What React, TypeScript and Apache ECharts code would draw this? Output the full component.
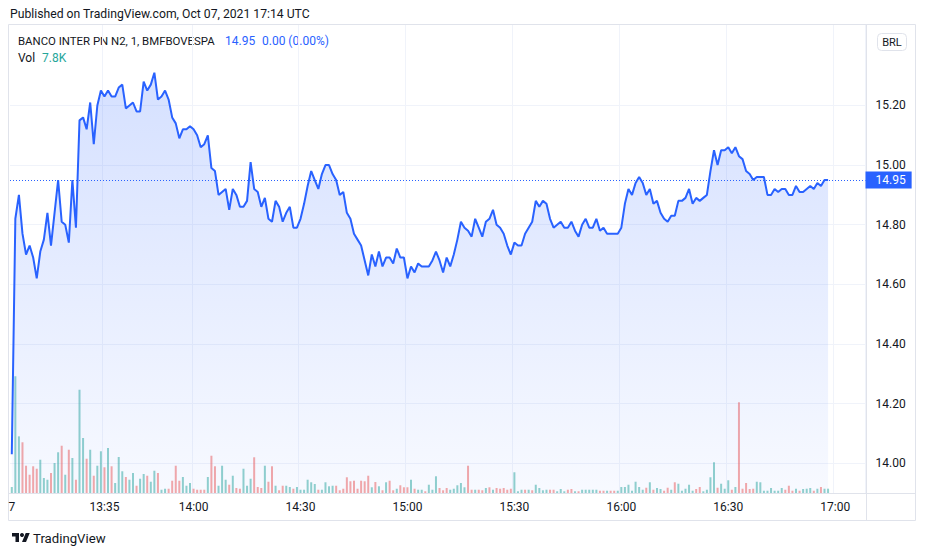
import React, { useEffect, useRef } from "react";
import * as echarts from "echarts";

// ---------- data ----------
const PRICE: number[] = [
  14.03, 14.82, 14.90, 14.77, 14.70, 14.73, 14.69, 14.62, 14.71, 14.75,
  14.84, 14.73, 14.84, 14.95, 14.81, 14.80, 14.74, 14.95, 14.79, 15.15,
  15.16, 15.12, 15.21, 15.07, 15.20, 15.25, 15.23, 15.25, 15.23, 15.23,
  15.26, 15.27, 15.19, 15.20, 15.21, 15.18, 15.18, 15.28, 15.25, 15.27,
  15.31, 15.22, 15.23, 15.25, 15.22, 15.16, 15.14, 15.09, 15.12, 15.12,
  15.13, 15.12, 15.10, 15.06, 15.07, 15.10, 14.99, 14.98, 14.90, 14.91,
  14.92, 14.85, 14.92, 14.90, 14.86, 14.86, 14.88, 15.01, 14.92, 14.91,
  14.86, 14.89, 14.82, 14.81, 14.88, 14.86, 14.81, 14.84, 14.86, 14.79,
  14.79, 14.82, 14.87, 14.93, 14.98, 14.95, 14.92, 14.97, 15.00, 15.00,
  14.97, 14.95, 14.90, 14.91, 14.84, 14.82, 14.77, 14.75, 14.73, 14.68,
  14.63, 14.70, 14.66, 14.71, 14.66, 14.69, 14.69, 14.67, 14.72, 14.69,
  14.69, 14.62, 14.66, 14.64, 14.67, 14.66, 14.66, 14.66, 14.68, 14.71,
  14.68, 14.64, 14.69, 14.66, 14.70, 14.75, 14.81, 14.79, 14.78, 14.76,
  14.82, 14.79, 14.76, 14.81, 14.82, 14.85, 14.80, 14.79, 14.77, 14.73,
  14.70, 14.74, 14.73, 14.73, 14.77, 14.79, 14.81, 14.88, 14.86, 14.88,
  14.87, 14.82, 14.79, 14.80, 14.81, 14.79, 14.79, 14.81, 14.78, 14.76,
  14.80, 14.82, 14.79, 14.79, 14.82, 14.78, 14.79, 14.77, 14.77, 14.77,
  14.77, 14.79, 14.87, 14.92, 14.90, 14.94, 14.96, 14.94, 14.90, 14.92,
  14.87, 14.88, 14.84, 14.82, 14.81, 14.83, 14.83, 14.88, 14.88, 14.89,
  14.92, 14.87, 14.89, 14.88, 14.89, 14.90, 14.98, 15.05, 15.00, 15.05,
  15.05, 15.06, 15.04, 15.06, 15.03, 15.02, 14.98, 14.97, 14.95, 14.96,
  14.96, 14.96, 14.90, 14.90, 14.92, 14.91, 14.92, 14.92, 14.90, 14.90,
  14.93, 14.91, 14.91, 14.92, 14.93, 14.92, 14.94, 14.93, 14.95, 14.95,
];

const VOLUME: number[] = [
  10800, 210000, 102000, 91300, 49100, 32900, 48100, 43700, 59900, 27000,
  23900, 36000, 54000, 73300, 85100, 32900, 77900, 63000, 23900, 185900,
  99000, 61700, 77900, 31100, 49100, 75100, 46300, 81000, 48100, 18000,
  64800, 39100, 28800, 23900, 36000, 13100, 25700, 34200, 31100, 20300,
  40100, 36000, 5900, 7700, 7700, 22100, 49100, 22100, 28800, 13100,
  18000, 7700, 5900, 5900, 5900, 28800, 67100, 48100, 13100, 49100,
  23900, 14900, 31100, 9000, 7700, 43700, 13100, 25700, 64300, 10800,
  9000, 49100, 20300, 48100, 13100, 4900, 13100, 13100, 10800, 7700,
  10800, 5900, 5900, 23900, 19300, 16200, 5900, 5900, 19300, 12100,
  13100, 13100, 4900, 7700, 28300, 21100, 22100, 7700, 22100, 21100,
  31100, 10300, 19800, 12100, 4900, 19300, 22100, 4900, 7700, 13900,
  10300, 10300, 23900, 7700, 5900, 5900, 3100, 14900, 5900, 30100,
  9000, 4900, 9000, 5900, 7700, 13900, 18000, 10300, 49100, 5900,
  5900, 5900, 4900, 9000, 10300, 5900, 9000, 7700, 9000, 5900,
  7700, 37300, 3100, 5900, 5900, 5900, 4900, 14900, 9000, 4900,
  5900, 5900, 5900, 3100, 7200, 3100, 5900, 7200, 3100, 3100,
  5900, 5900, 5900, 5900, 5900, 4100, 4100, 4100, 4100, 4100,
  4100, 10800, 10800, 14900, 4100, 20300, 10800, 5900, 9500, 19300,
  5900, 9000, 7200, 4100, 9500, 5900, 19300, 16700, 4100, 7700,
  14900, 4100, 7200, 10800, 3100, 5900, 28300, 55300, 9500, 16700,
  7700, 22900, 5900, 10800, 163300, 7700, 18000, 7200, 7700, 20300,
  19300, 4100, 4100, 9000, 4100, 4100, 9000, 5900, 13100, 4100,
  7700, 4100, 7200, 7700, 9000, 4100, 7700, 10800, 7700, 7800,
];

// u = up bar (close >= open), d = down bar
const VOLUME_DIR =
  "uuuddddduu" + "uduudududu" + "ududuududu" + "uuduuduudu" + "uduudddduu" +
  "uddddudduu" + "ududduuudd" + "duddudduud" + "uuuuuuduuu" + "uddddddddd" +
  "dudududdud" + "dduduuduuu" + "ddduuuuudd" + "uddududddd" + "duuududuuu" +
  "udduuuddud" + "uuuuuddudd" + "uuuuuuuudu" + "duudduduuu" + "uudduuuudu" +
  "uududddddu" + "uuuuuuuddd" + "uduuududuu";

const PRICE_TICKS = [14.0, 14.2, 14.4, 14.6, 14.8, 15.0, 15.2];
const LAST_PRICE = 14.95;
const TIME_TICKS = ["13:35", "14:00", "14:30", "15:00", "15:30", "16:00", "16:30", "17:00"];
const DAY_LABEL = "7";
const FIRST_MINUTE = 13 * 60 + 9; // 13:09 UTC
const SLOT_COUNT = 240;

const TITLE = "Published on TradingView.com, Oct 07, 2021 17:14 UTC";
const SYMBOL = "BANCO INTER PN N2, 1, BMFBOVESPA";
const LAST_TEXT = "14.95";
const CHANGE_TEXT = "0.00 (0.00%)";
const VOL_TEXT = "7.8K";

const CATEGORIES = Array.from({ length: SLOT_COUNT }, (_, i) => {
  const m = FIRST_MINUTE + i;
  return `${Math.floor(m / 60)}:${String(m % 60).padStart(2, "0")}`;
});

const FONT = "Roboto, 'Liberation Sans', sans-serif";
const TEXT = "#131722";
const BLUE = "#2962FF";
const BORDER = "#e0e3eb";
const GRID = "#f0f3fa";
const UP = "rgba(38,166,154,0.5)";
const DOWN = "rgba(239,83,80,0.5)";

export default function App() {
  const ref = useRef<HTMLDivElement>(null);

  useEffect(() => {
    if (!ref.current) return;
    const chart = echarts.init(ref.current, undefined, { renderer: "svg" });

    const option: any = {
      animation: false,
      backgroundColor: "#ffffff",
      textStyle: { fontFamily: FONT },
      grid: { left: 10, right: 60.5, top: 25, bottom: 63 },
      xAxis: {
        type: "category",
        data: CATEGORIES,
        boundaryGap: true,
        axisLine: { show: false },
        axisTick: { show: false },
        axisLabel: {
          interval: (i: number, v: string) => i === 0 || TIME_TICKS.includes(v),
          formatter: (v: string, i: number) => (i === 0 ? DAY_LABEL : v),
          color: TEXT,
          fontSize: 12,
          fontFamily: FONT,
          margin: 8,
        },
        splitLine: {
          show: true,
          interval: (i: number, v: string) => TIME_TICKS.includes(v),
          lineStyle: { color: GRID, width: 1 },
        },
      },
      yAxis: [
        { type: "value", min: 13.9, max: 15.47, show: false, splitLine: { show: false } },
        { type: "value", min: 0, max: 842400, show: false, splitLine: { show: false } },
      ],
      series: [
        {
          type: "line",
          data: [],
          silent: true,
          z: 1,
          markLine: {
            silent: true,
            symbol: ["none", "none"],
            z: 1,
            animation: false,
            data: PRICE_TICKS.map((v) => ({
              yAxis: v,
              lineStyle: { color: GRID, type: "solid", width: 1 },
              label: {
                show: true,
                position: "end",
                formatter: v.toFixed(2),
                color: TEXT,
                fontSize: 12,
                fontFamily: FONT,
                distance: 10,
              },
            })),
          },
        },
        {
          type: "bar",
          yAxisIndex: 1,
          barWidth: 2,
          silent: true,
          z: 2,
          data: VOLUME.map((v, i) => ({
            value: v,
            itemStyle: { color: VOLUME_DIR[i] === "u" ? UP : DOWN },
          })),
        },
        {
          type: "line",
          yAxisIndex: 0,
          data: PRICE,
          symbol: "none",
          showSymbol: false,
          silent: true,
          z: 3,
          lineStyle: { color: BLUE, width: 2 },
          areaStyle: {
            color: new echarts.graphic.LinearGradient(0, 0, 0, 1, [
              { offset: 0, color: "rgba(41,98,255,0.28)" },
              { offset: 1, color: "rgba(41,98,255,0.05)" },
            ]),
          },
          markLine: {
            silent: true,
            symbol: ["none", "none"],
            z: 4,
            animation: false,
            data: [
              {
                yAxis: LAST_PRICE,
                lineStyle: { color: BLUE, type: [1, 2], width: 1 },
                label: {
                  show: true,
                  position: "end",
                  formatter: LAST_PRICE.toFixed(2),
                  color: "#ffffff",
                  backgroundColor: BLUE,
                  padding: [3, 6, 2, 10],
                  fontSize: 12,
                  fontFamily: FONT,
                  distance: 0,
                },
              },
            ],
          },
        },
      ],
      graphic: [
        {
          type: "rect",
          silent: true,
          shape: { x: 8.5, y: 24.5, width: 907, height: 496 },
          style: { fill: "none", stroke: BORDER, lineWidth: 1 },
        },
        {
          type: "line",
          silent: true,
          shape: { x1: 866.5, y1: 24.5, x2: 866.5, y2: 520.5 },
          style: { stroke: BORDER, lineWidth: 1 },
        },
        {
          type: "line",
          silent: true,
          shape: { x1: 8.5, y1: 493.5, x2: 915.5, y2: 493.5 },
          style: { stroke: BORDER, lineWidth: 1 },
        },
        {
          type: "rect",
          silent: true,
          shape: { x: 877.5, y: 33.5, width: 29, height: 17, r: 4 },
          style: { fill: "#ffffff", stroke: BORDER, lineWidth: 1 },
        },
        {
          type: "text",
          silent: true,
          x: 892,
          y: 42,
          style: { text: "BRL", fill: TEXT, fontSize: 11, fontFamily: FONT, align: "center", verticalAlign: "middle" },
        },
        {
          type: "text",
          silent: true,
          x: 10,
          y: 14,
          style: { text: TITLE, fill: TEXT, fontSize: 12.2, fontFamily: FONT, verticalAlign: "middle" },
        },
        {
          type: "text",
          silent: true,
          x: 18,
          y: 41,
          style: { text: SYMBOL, fill: TEXT, fontSize: 11.4, fontFamily: FONT, verticalAlign: "middle" },
        },
        {
          type: "text",
          silent: true,
          x: 225,
          y: 41,
          style: { text: LAST_TEXT, fill: BLUE, fontSize: 12, fontFamily: FONT, verticalAlign: "middle" },
        },
        {
          type: "text",
          silent: true,
          x: 262,
          y: 41,
          style: { text: CHANGE_TEXT, fill: BLUE, fontSize: 12, fontFamily: FONT, verticalAlign: "middle" },
        },
        {
          type: "text",
          silent: true,
          x: 18,
          y: 58,
          style: { text: "Vol", fill: TEXT, fontSize: 12, fontFamily: FONT, verticalAlign: "middle" },
        },
        {
          type: "text",
          silent: true,
          x: 42,
          y: 58,
          style: { text: VOL_TEXT, fill: "#26a69a", fontSize: 12, fontFamily: FONT, verticalAlign: "middle" },
        },
        {
          type: "group",
          silent: true,
          x: 12,
          y: 531,
          scaleX: 0.5,
          scaleY: 0.5,
          children: [
            {
              type: "polygon",
              shape: { points: [[0, 4], [14, 4], [14, 22], [7, 22], [7, 11], [0, 11]] },
              style: { fill: TEXT },
            },
            { type: "circle", shape: { cx: 20, cy: 8, r: 4 }, style: { fill: TEXT } },
            {
              type: "polygon",
              shape: { points: [[20, 22], [27.5, 4], [35.5, 4], [28, 22]] },
              style: { fill: TEXT },
            },
          ],
        },
        {
          type: "text",
          silent: true,
          x: 33,
          y: 538,
          style: { text: "TradingView", fill: TEXT, fontSize: 13.2, fontFamily: FONT, verticalAlign: "middle" },
        },
      ],
    };

    chart.setOption(option);
    return () => chart.dispose();
  }, []);

  return (
    <div
      ref={ref}
      style={{ position: "fixed", left: 0, top: 0, width: 926, height: 556, background: "#fff" }}
    />
  );
}
